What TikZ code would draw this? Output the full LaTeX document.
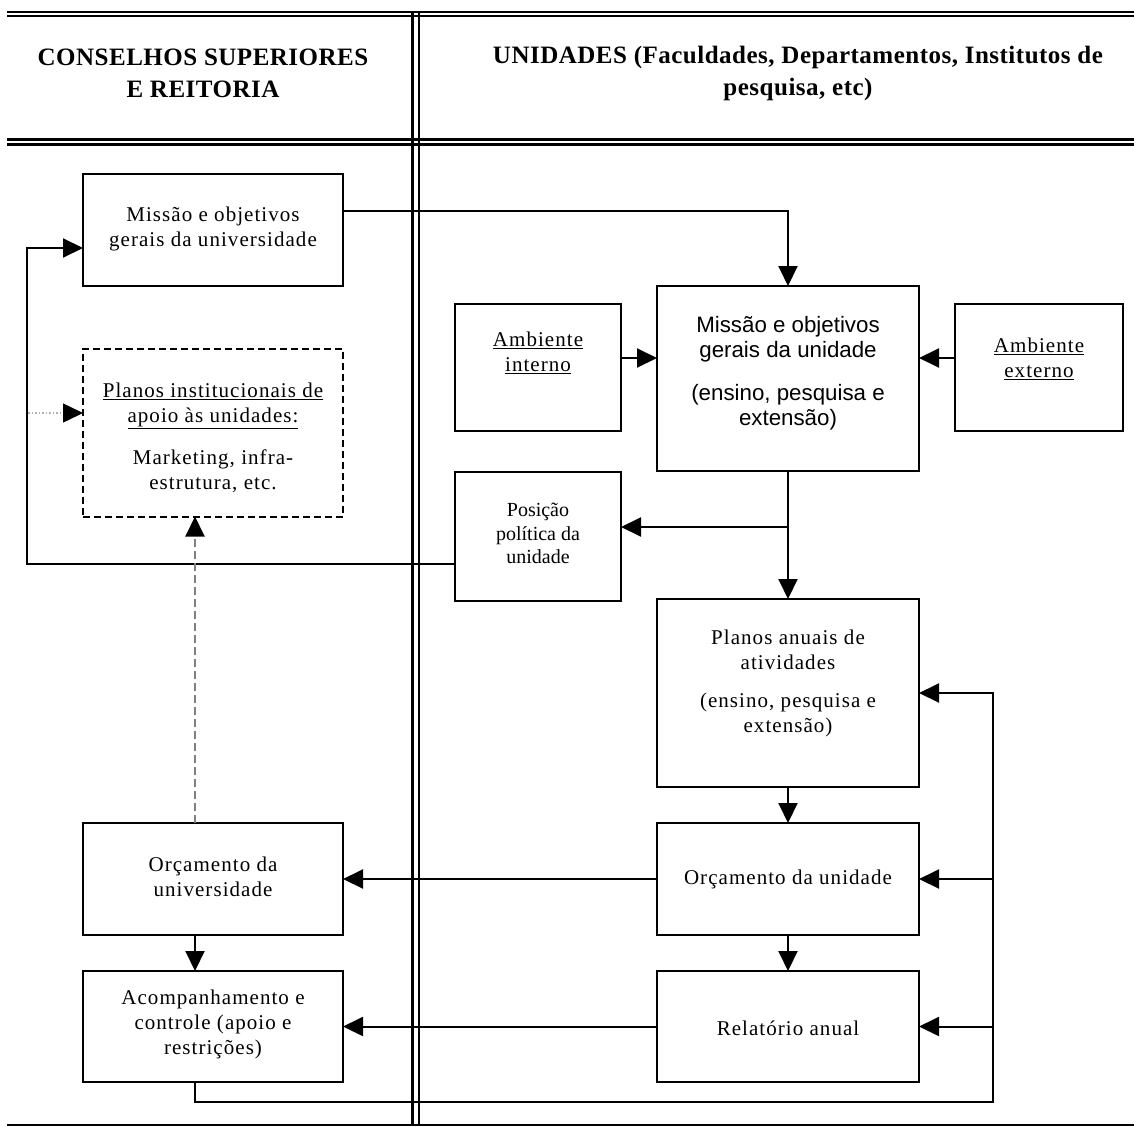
\documentclass[tikz,border=0pt]{standalone}
\usepackage{fontspec}
\usetikzlibrary{arrows.meta}
\setmainfont{Liberation Serif}
\newfontfamily\boxserif{Liberation Serif}[LetterSpace=5]
\newfontfamily\headserif{Liberation Serif}[LetterSpace=2]
\newfontfamily\unitsans{Liberation Sans}
\begin{document}
\begin{tikzpicture}[x=1pt,y=-1pt,
  >={Triangle[length=20pt,width=19pt]},
  box/.style={draw,line width=2.3pt,rectangle,inner sep=0pt,outer sep=0pt},
  dbox/.style={box,line width=2pt,dash pattern=on 7pt off 4pt},
  txt/.style={align=center,inner sep=0pt,font=\boxserif\fontsize{21}{25}\selectfont},
  ptxt/.style={align=center,inner sep=0pt,font=\fontsize{20}{23.5}\selectfont},
  stxt/.style={align=center,inner sep=0pt,font=\unitsans\fontsize{22.3}{25}\selectfont},
  htxt/.style={align=center,inner sep=0pt,font=\headserif\bfseries\fontsize{25}{32}\selectfont},
  conn/.style={line width=2pt},
  frame/.style={line width=2.4pt},
]
\useasboundingbox (0,0) rectangle (1134,1126);

% frame of the two columns
\draw[frame] (7,12.3) -- (1134,12.3);
\draw[frame,line width=2pt] (7,16.5) -- (1134,16.5);
\draw[frame] (7,139.5) -- (1134,139.5);
\draw[frame] (7,144.5) -- (1134,144.5);
\draw[frame] (412.5,12.3) -- (412.5,1126);
\draw[frame] (418.8,12.3) -- (418.8,1126);
\draw[frame,line width=2pt] (7,1124.5) -- (1134,1124.5);

% column headings
\node[htxt] (hl) at (203,73) {CONSELHOS SUPERIORES\\E REITORIA};
\node[htxt] (hr) at (798,73) {UNIDADES (Faculdades, Departamentos, Institutos de\\pesquisa, etc)};

% left column boxes
\node[box,minimum width=260pt,minimum height=112pt] (mun) at (213,230) {};
\node[txt] (mun-t) at (213,229) {Missão e objetivos\\gerais da universidade};

\node[dbox,minimum width=260pt,minimum height=168pt] (pin) at (213,432.5) {};
\node[txt] (pin-t) at (213,438) {\underline{Planos institucionais de}\\\underline{apoio às unidades:}\\[17pt]Marketing, infra-\\estrutura, etc.};

\node[box,minimum width=260pt,minimum height=112pt] (oun) at (213,879) {};
\node[txt] (oun-t) at (213,876.5) {Orçamento da\\universidade};

\node[box,minimum width=260pt,minimum height=111pt] (acc) at (213,1026.5) {};
\node[txt] (acc-t) at (213,1024) {Acompanhamento e\\controle (apoio e\\restrições)};

% right column boxes
\node[box,minimum width=166pt,minimum height=127pt] (ai) at (538,367.5) {};
\node[txt] (ai-t) at (538,352.5) {\underline{Ambiente}\\\underline{interno}};

\node[box,minimum width=262pt,minimum height=185pt] (mu) at (788,378.5) {};
\node[stxt] (mu-t) at (788,373.5) {Missão e objetivos\\gerais da unidade\\[18pt](ensino, pesquisa e\\extensão)};

\node[box,minimum width=168pt,minimum height=127pt] (ae) at (1039,367.5) {};
\node[txt] (ae-t) at (1039,358.5) {\underline{Ambiente}\\\underline{externo}};

\node[box,minimum width=166pt,minimum height=129pt] (pp) at (538,536.5) {};
\node[ptxt] (pp-t) at (538,533.5) {Posição\\política da\\unidade};

\node[box,minimum width=262pt,minimum height=188pt] (pa) at (788,693) {};
\node[txt] (pa-t) at (788,683) {Planos anuais de\\atividades\\[13pt](ensino, pesquisa e\\extensão)};

\node[box,minimum width=262pt,minimum height=112pt] (ou) at (788,879) {};
\node[txt] (ou-t) at (788,879) {Orçamento da unidade};

\node[box,minimum width=262pt,minimum height=111pt] (ra) at (788,1026.5) {};
\node[txt] (ra-t) at (788,1028.5) {Relatório anual};

% bend points of the connectors
\coordinate (k1) at (788,211);
\coordinate (yai) at (0,358);
\coordinate (ypp) at (788,527);
\coordinate (l1) at (27,564);
\coordinate (l2) at (27,248);
\coordinate (d0) at (28,413);
\coordinate (xl) at (195,0);
\coordinate (f1) at (195,1102);
\coordinate (f2) at (993,1102);
\coordinate (f3) at (993,693);

% connectors
\draw[conn,->] (mun.east |- k1) -- (k1) -- (mu.north);
\draw[conn,->] (ai.east |- yai) -- (mu.west |- yai);
\draw[conn,->] (ae.west |- yai) -- (mu.east |- yai);
\draw[conn,->] (mu.south) -- (pa.north);
\draw[conn,->] (ypp) -- (pp.east |- ypp);
\draw[conn,->] (pp.west |- l1) -- (l1) -- (l2) -- (mun.west |- l2);
\draw[line width=1.5pt,gray!60,dotted,-{Triangle[length=20pt,width=19pt,black]}] (d0) -- (pin.west |- d0);
\draw[line width=2pt,gray,dash pattern=on 8pt off 4pt,-{Triangle[length=20pt,width=19pt,black]}] (oun.north -| xl) -- (pin.south -| xl);
\draw[conn,->] (pa.south) -- (ou.north);
\draw[conn,->] (ou.south) -- (ra.north);
\draw[conn,->] (ou.west) -- (oun.east);
\draw[conn,->] (ra.west) -- (acc.east);
\draw[conn,->] (oun.south -| xl) -- (acc.north -| xl);
\draw[conn,->] (acc.south -| f1) -- (f1) -- (f2) -- (f3) -- (pa.east |- f3);
\draw[conn,->] (f2 |- ou.east) -- (ou.east);
\draw[conn,->] (f2 |- ra.east) -- (ra.east);
\end{tikzpicture}
\end{document}
